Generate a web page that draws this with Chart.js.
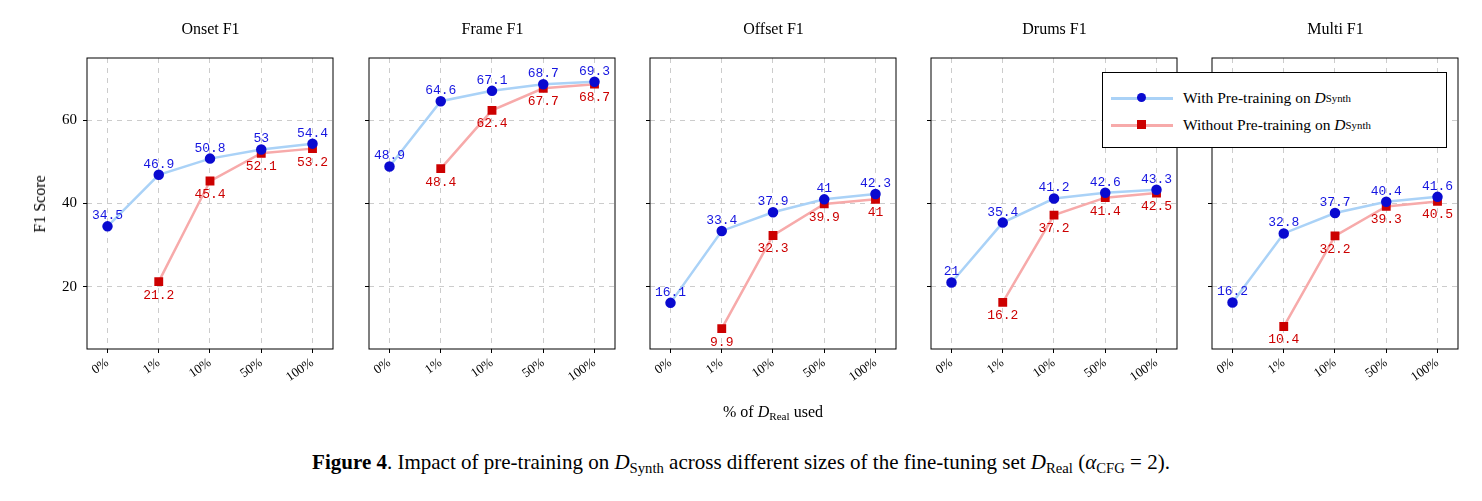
<!DOCTYPE html>
<html><head><meta charset="utf-8">
<script src="https://cdn.jsdelivr.net/npm/chart.js@4"></script>
<style>
body{margin:0;width:1482px;height:501px;background:#fff;position:relative;font-family:"Liberation Serif",serif;overflow:hidden}
.c{position:absolute;top:0;height:400px}
.t{position:absolute;font-size:16px;transform:translateX(-50%);white-space:nowrap}
sub{font-size:70%;vertical-align:-0.25em}
.D{font-style:italic}
#legend{position:absolute;left:1102px;top:72px;width:343px;height:74px;border:1.5px solid #000;background:#fff;font-size:15.5px}
.row{position:absolute;left:8px;height:20px;display:flex;align-items:center}
.ln{position:relative;width:62px;height:3px;margin-right:10px}
.mk{position:absolute;left:26px;top:-3.5px;width:9px;height:9px}
</style></head><body>
<script>
const categories=["0%","1%","10%","50%","100%"];
const panels=["Onset F1","Frame F1","Offset F1","Drums F1","Multi F1"];
const withPre=[[34.5,46.9,50.8,53,54.4],[48.9,64.6,67.1,68.7,69.3],[16.1,33.4,37.9,41,42.3],[21,35.4,41.2,42.6,43.3],[16.2,32.8,37.7,40.4,41.6]];
const withoutPre=[[null,21.2,45.4,52.1,53.2],[null,48.4,62.4,67.7,68.7],[null,9.9,32.3,39.9,41],[null,16.2,37.2,41.4,42.5],[null,10.4,32.2,39.3,40.5]];
const yTicks=[20,40,60];
const lefts=[87,369,650,931,1212];
const W=247,YW=60;
const frame={id:'frame',afterDraw(c){const a=c.chartArea,x=c.ctx;x.save();x.strokeStyle='#000';x.lineWidth=1;x.strokeRect(a.left,a.top,a.right-a.left,a.bottom-a.top);x.restore();}};
const labels={id:'labels',afterDatasetsDraw(c){const x=c.ctx;x.save();x.font='13px "Liberation Mono", monospace';x.textAlign='center';
c.data.datasets.forEach((d,i)=>{const m=c.getDatasetMeta(i);m.data.forEach((p,j)=>{const v=d.data[j].y;if(v==null)return;
x.fillStyle=i==0?'#1515e0':'#cc0000';x.textBaseline=i==0?'bottom':'top';x.fillText(String(v),p.x,i==0?p.y-4:p.y+7);});});x.restore();}};
panels.forEach((name,k)=>{
  const cv=document.createElement('canvas');const dv=document.createElement('div');dv.className='c';
  const cw=YW+W+6;
  dv.style.left=(lefts[k]-YW)+'px';dv.style.width=cw+'px';
  cv.width=cw;cv.height=400;cv.style.width=cw+'px';cv.style.height='400px';
  dv.appendChild(cv);document.body.appendChild(dv);
  const t=document.createElement('div');t.className='t';t.style.left=(lefts[k]+W/2)+'px';t.style.top='20px';t.textContent=name;document.body.appendChild(t);
  const pts=a=>a.map((v,i)=>({x:i,y:v}));
  new Chart(cv,{type:'line',data:{datasets:[
    {data:pts(withPre[k]),borderColor:'#aad2f7',borderWidth:2.5,pointBackgroundColor:'#0a0ad0',pointBorderColor:'#0a0ad0',pointRadius:4,pointStyle:'circle'},
    {data:pts(withoutPre[k]),borderColor:'#f7aaaa',borderWidth:2.5,pointBackgroundColor:'#cc0000',pointBorderColor:'#cc0000',pointRadius:4.5,pointStyle:'rect',spanGaps:false}]},
   options:{responsive:false,maintainAspectRatio:false,devicePixelRatio:1,animation:false,events:[],layout:{padding:{top:58,right:6,left:0,bottom:0}},
    plugins:{legend:{display:false},tooltip:{enabled:false}},
    scales:{
     x:{type:'linear',min:-0.4,max:4.4,afterBuildTicks:s=>{s.ticks=categories.map((_,i)=>({value:i}));},afterFit:s=>{s.height=51;},
        ticks:{callback:v=>categories[v],minRotation:35,maxRotation:35,color:'#000',font:{family:'Liberation Serif',size:13},padding:2},
        grid:{color:'#ccc',drawTicks:true,tickLength:4,tickColor:'#000'},border:{display:false,dash:[5,5]}},
     y:{min:5,max:75,afterBuildTicks:s=>{s.ticks=yTicks.map(v=>({value:v}));},afterFit:s=>{s.width=YW;},
        ticks:{display:k==0,color:'#000',font:{family:'Liberation Serif',size:15},padding:6},
        grid:{color:'#ccc',tickLength:4,tickColor:'#000'},border:{display:false,dash:[5,5]}}}},
   plugins:[frame,labels]});
});
</script>
<div class="t" style="left:40px;top:195px;transform:translateX(-50%) rotate(-90deg)">F1 Score</div>
<div class="t" style="left:773px;top:403px">% of <span class="D">D</span><sub>Real</sub> used</div>
<div class="t" style="left:741px;top:450px;font-size:21px">
<b>Figure 4</b>. Impact of pre-training on <span class="D">D</span><sub>Synth</sub> across different sizes of the fine-tuning set <span class="D">D</span><sub>Real</sub> (<i>α</i><sub>CFG</sub> = 2).</div>
<div id="legend">
 <div class="row" style="top:15px"><div class="ln" style="background:#aad2f7"><div class="mk" style="background:#0a0ad0;border-radius:50%"></div></div>With Pre-training on <span class="D">&nbsp;D</span><sub>Synth</sub></div>
 <div class="row" style="top:42px"><div class="ln" style="background:#f7aaaa"><div class="mk" style="background:#cc0000"></div></div>Without Pre-training on <span class="D">&nbsp;D</span><sub>Synth</sub></div>
</div>
</body></html>
